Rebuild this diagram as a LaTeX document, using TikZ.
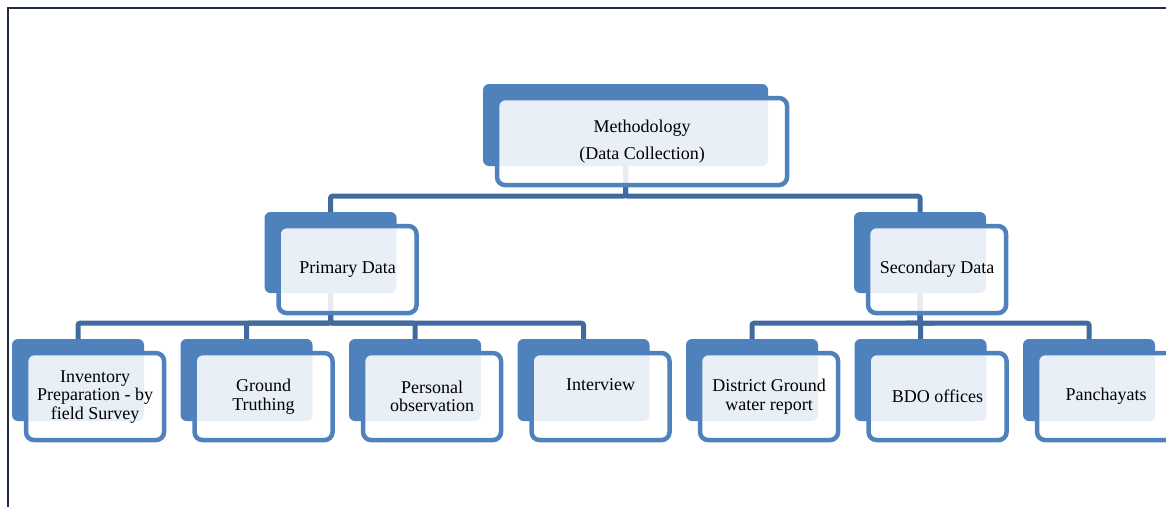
\documentclass[tikz,border=0pt]{standalone}
\usepackage{fontspec}
\setmainfont{Liberation Serif}
\usetikzlibrary{positioning}

\definecolor{smartblue}{RGB}{79,129,189}
\definecolor{linkblue}{RGB}{65,106,158}
\definecolor{framenavy}{RGB}{31,45,68}

\begin{document}
\begin{tikzpicture}[x=1pt, y=-1pt,
        back/.style={rectangle, rounded corners=6pt, fill=smartblue, inner sep=0pt,
                     minimum width=132pt, minimum height=82pt},
        front/.style={rectangle, rounded corners=8pt, draw=smartblue, line width=4.5pt,
                      fill=white, fill opacity=0.88, text opacity=1, inner sep=0pt,
                      align=center, minimum width=138pt, minimum height=87pt,
                      font=\fontsize{18}{18.5}\selectfont},
        link/.style={draw=linkblue, line width=5pt, rounded corners=2pt}]
        \useasboundingbox (0,0) rectangle (1166,506);
        \draw[framenavy, line width=2pt] (8,520) -- (8,8) -- (1180,8);

        % back plates
        \node[back, minimum width=285pt] (meth) at (625.5,125) {};
        \node[back, minimum height=81pt] (prim) at (330.5,252.5) {};
        \node[back, minimum height=81pt] (sec) at (920,252.5) {};
        \node[back] (inv)  at (78,380) {};
        \node[back] (grd)  at (246.5,380) {};
        \node[back] (pers) at (415,380) {};
        \node[back] (intv) at (583.5,380) {};
        \node[back] (dist) at (752,380) {};
        \node[back] (bdo)  at (920.5,380) {};
        \node[back] (panc) at (1089,380) {};

        % connectors
        \draw[link] (meth.south) -- ++(0,30) -| (prim.north);
        \draw[link] (meth.south) -- ++(0,30) -| (sec.north);
        \foreach \child in {inv,grd,pers,intv}
            \draw[link] (prim.south) -- ++(0,30) -| (\child.north);
        \foreach \child in {dist,bdo,panc}
            \draw[link] (sec.south) -- ++(0,30) -| (\child.north);

        % front cards
        \node[front, minimum width=290pt, below right=12pt and 12pt of meth.north west]
            (methF) {Methodology\\[8pt](Data Collection)};
        \node[front, below right=12pt and 12pt of prim.north west] (primF) {Primary Data};
        \node[front, below right=12pt and 12pt of sec.north west] (secF) {Secondary Data};
        \node[front, below right=12pt and 12pt of inv.north west]
            (invF) {Inventory\\Preparation - by\\field Survey};
        \node[front, below right=12pt and 12pt of grd.north west] (grdF) {Ground\\Truthing};
        \node[front, below right=12pt and 12pt of pers.north west] (persF) {Personal\\observation};
        \node[front, below right=12pt and 12pt of intv.north west] (intvF) {Interview\\[6pt]\mbox{}};
        \node[front, below right=12pt and 12pt of dist.north west]
            (distF) {District Ground\\water report};
        \node[front, below right=12pt and 12pt of bdo.north west] (bdoF) {BDO offices};
        \node[front, below right=12pt and 12pt of panc.north west] (pancF) {Panchayats};
\end{tikzpicture}
\end{document}
